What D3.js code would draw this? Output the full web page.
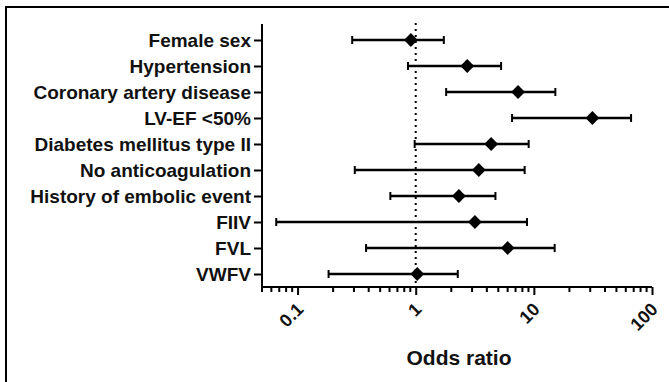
<!DOCTYPE html>
<html>
    <head>
        <script src="https://d3js.org/d3.v7.min.js"></script>
        <style>
            body { margin: 0; background: white; }
            text { font-family: "Liberation Sans", Arial, sans-serif; font-weight: bold; }
        </style>
    </head>
    <body>
        <script>
            // factors, top to bottom
            var factors = ["Female sex", "Hypertension", "Coronary artery disease", "LV-EF <50%",
                "Diabetes mellitus type II", "No anticoagulation", "History of embolic event",
                "FIIV", "FVL", "VWFV"];
            // odds ratios and 95% CI
            var oddsRatio = [0.91, 2.73, 7.35, 31.3, 4.35, 3.42, 2.32, 3.17, 6.01, 1.03];
            var ciLow     = [0.29, 0.86, 1.81, 6.54, 0.98, 0.305, 0.61, 0.066, 0.38, 0.183];
            var ciHigh    = [1.73, 5.28, 15.2, 66.5, 9.04, 8.36, 4.73, 8.75, 15.0, 2.27];
            var majorTicks = [0.1, 1, 10, 100];

            var width = 669, height = 382;
            var plotLeft = 262, plotRight = 652, plotTop = 27, plotBottom = 287;

            var svg = d3.select("body").append("svg")
                .attr("width", width)
                .attr("height", height);

            // frame (top and left edges only visible)
            svg.append("line").attr("x1", 5).attr("x2", width).attr("y1", 7).attr("y2", 7)
                .attr("stroke", "black").attr("stroke-width", 2);
            svg.append("line").attr("x1", 6).attr("x2", 6).attr("y1", 6).attr("y2", height)
                .attr("stroke", "black").attr("stroke-width", 2);

            var x = d3.scaleLog().domain([0.05, 100]).range([plotLeft, plotRight]);
            var y = d3.scalePoint().domain(factors).range([plotTop, plotBottom]).padding(0.5);

            var rows = factors.map(function(f, i) {
                return {name: f, or: oddsRatio[i], lo: ciLow[i], hi: ciHigh[i]};
            });

            // reference line at OR = 1
            svg.append("line")
                .attr("x1", x(1)).attr("x2", x(1))
                .attr("y1", plotTop - 4).attr("y2", plotBottom)
                .attr("stroke", "black")
                .attr("stroke-width", 2)
                .attr("stroke-dasharray", "2,4");

            // y axis
            var yAxis = d3.axisLeft(y).tickSize(8).tickPadding(3);
            var gy = svg.append("g")
                .attr("transform", "translate(" + plotLeft + ",0)")
                .call(yAxis);
            gy.select(".domain").attr("d", "M0," + (plotTop - 3) + "V" + plotBottom).attr("stroke-width", 2);
            gy.selectAll(".tick line").attr("stroke-width", 2);
            gy.selectAll(".tick text")
                .style("font-size", "19px")
                .style("font-family", "Liberation Sans, Arial, sans-serif")
                .style("font-weight", "bold")
                .attr("fill", "#111");

            // x axis, minor ticks
            var minor = [];
            [0.01, 0.1, 1, 10].forEach(function(d) {
                for (var k = 2; k <= 9; k++) {
                    var v = +(d * k).toPrecision(3);
                    if (v >= 0.05 && v <= 100) minor.push(v);
                }
            });
            var gx = svg.append("g").attr("transform", "translate(0," + plotBottom + ")");
            gx.selectAll(".minor")
                .data(minor)
                .enter().append("line")
                .attr("x1", function(d) { return x(d); })
                .attr("x2", function(d) { return x(d); })
                .attr("y1", 0).attr("y2", 5)
                .attr("stroke", "black").attr("stroke-width", 2);

            var xAxis = d3.axisBottom(x).tickValues(majorTicks).tickSize(8)
                .tickFormat(function(d) { return d3.format("")(d); });
            var gxa = gx.append("g").call(xAxis);
            gxa.select(".domain").attr("d", "M" + plotLeft + ",0H" + plotRight).attr("stroke-width", 2);
            gxa.selectAll(".tick line").attr("stroke-width", 2);
            gxa.selectAll(".tick text")
                .attr("text-anchor", "end")
                .attr("transform", "translate(2,19) rotate(-45)")
                .attr("dy", "0.35em")
                .attr("y", 0)
                .attr("x", 0)
                .style("font-size", "18px")
                .style("font-family", "Liberation Sans, Arial, sans-serif")
                .style("font-weight", "bold")
                .attr("fill", "#111");

            // whiskers
            var g = svg.append("g");
            g.selectAll(".ci")
                .data(rows)
                .enter().append("line")
                .attr("x1", function(d) { return x(d.lo); })
                .attr("x2", function(d) { return x(d.hi); })
                .attr("y1", function(d) { return y(d.name); })
                .attr("y2", function(d) { return y(d.name); })
                .attr("stroke", "black").attr("stroke-width", 2.5);
            ["lo", "hi"].forEach(function(k) {
                g.selectAll(".cap-" + k)
                    .data(rows)
                    .enter().append("line")
                    .attr("x1", function(d) { return x(d[k]); })
                    .attr("x2", function(d) { return x(d[k]); })
                    .attr("y1", function(d) { return y(d.name) - 4; })
                    .attr("y2", function(d) { return y(d.name) + 4; })
                    .attr("stroke", "black").attr("stroke-width", 2);
            });

            // diamonds
            var diamond = d3.symbol().type(d3.symbolSquare).size(95);
            g.selectAll(".pt")
                .data(rows)
                .enter().append("path")
                .attr("d", diamond)
                .attr("transform", function(d) {
                    return "translate(" + x(d.or) + "," + y(d.name) + ") rotate(45)";
                })
                .attr("fill", "black");

            // axis title
            svg.append("text")
                .attr("x", (plotLeft + plotRight) / 2 + 2)
                .attr("y", 365)
                .attr("text-anchor", "middle")
                .style("font-size", "21px")
                .attr("fill", "#111")
                .text("Odds ratio");
        </script>
    </body>
</html>
